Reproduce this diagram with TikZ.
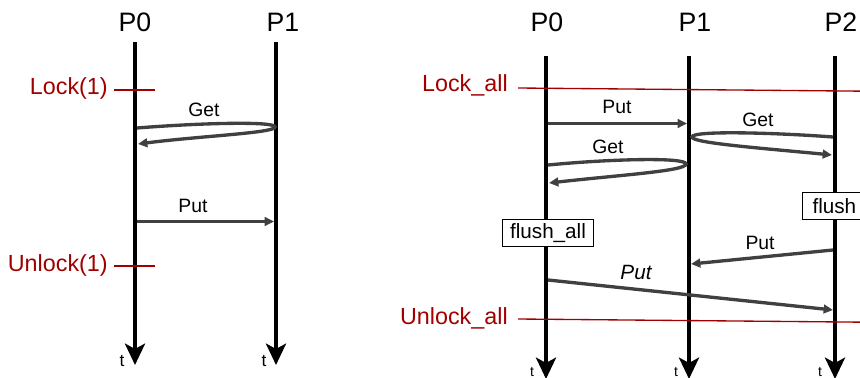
\documentclass[tikz,border=0pt]{standalone}
\usepackage{fontspec}
\setmainfont{Liberation Sans}
\usetikzlibrary{arrows.meta}
\definecolor{lockred}{RGB}{160,0,0}
\definecolor{msggray}{RGB}{64,64,64}
\tikzset{
  life/.style={line width=3pt, -{Stealth[length=16pt,width=15pt,inset=4pt]}},
  msg/.style={draw=msggray, line width=2.5pt, -{Triangle[length=7pt,width=6.5pt]}},
  proc/.style={font=\fontsize{20}{24}\selectfont, inner sep=0pt},
  locklbl/.style={text=lockred, font=\fontsize{17.5}{21}\selectfont, inner sep=0pt, anchor=east},
  lockline/.style={draw=lockred, line width=1pt},
  msglbl/.style={font=\fontsize{14.5}{17}\selectfont, inner sep=0pt},
  tlbl/.style={font=\fontsize{13}{15}\selectfont, inner sep=0pt},
  tlbls/.style={font=\fontsize{10.5}{12}\selectfont, inner sep=0pt},
  flushbox/.style={draw, fill=white, line width=0.8pt, font=\fontsize{15.5}{18}\selectfont, inner xsep=5.5pt, inner ysep=0pt, minimum height=20pt}
}
\begin{document}
\begin{tikzpicture}[x=0.75pt,y=-0.75pt]
\useasboundingbox (0,0) rectangle (860,378);

% ---------- left panel ----------
\node[proc] (lP0) at (135,22) {P0};
\node[proc] (lP1) at (283,22) {P1};
\coordinate (l0top) at (135,42);
\coordinate (l0bot) at (135,365);
\coordinate (l1top) at (276,42);
\coordinate (l1bot) at (276,365);
\draw[life] (l0top) -- (l0bot);
\draw[life] (l1top) -- (l1bot);
\node[tlbl] (lt0) at (122,361) {t};
\node[tlbl] (lt1) at (264,361) {t};

\node[locklbl] (lock1) at (108,88) {Lock(1)};
\coordinate (lk1a) at (114,90);
\coordinate (lk1b) at (155,90);
\draw[lockline] (lk1a) -- (lk1b);
\node[locklbl] (unlock1) at (108,265) {Unlock(1)};
\coordinate (ul1a) at (114,266);
\coordinate (ul1b) at (155,266);
\draw[lockline] (ul1a) -- (ul1b);

% Get (left)
\coordinate (lg0) at (137,128);
\coordinate (lgturn) at (275,127);
\coordinate (lg1) at (138,144);
\draw[msg] (lg0) .. controls (200,123) and (275,121) .. (lgturn)
   .. controls (275,133) and (200,136) .. (lg1);
\node[msglbl] (lgetlbl) at (204,110) {Get};

% Put (left)
\coordinate (lp0) at (137,221.5);
\coordinate (lp1) at (274,221.5);
\draw[msg] (lp0) -- (lp1);
\node[msglbl] (lputlbl) at (193,206) {Put};

% ---------- right panel ----------
\node[proc] (rP0) at (547,22) {P0};
\node[proc] (rP1) at (695,22) {P1};
\node[proc] (rP2) at (841,22) {P2};
\coordinate (r0top) at (546,56);
\coordinate (r0bot) at (546,379);
\coordinate (r1top) at (689,56);
\coordinate (r1bot) at (689,379);
\coordinate (r2top) at (835,56);
\coordinate (r2bot) at (835,379);
\draw[life] (r0top) -- (r0bot);
\draw[life] (r1top) -- (r1bot);
\draw[life] (r2top) -- (r2bot);
\node[tlbls] (rt0) at (532,372) {t};
\node[tlbls] (rt1) at (676,372) {t};
\node[tlbls] (rt2) at (820,372) {t};

% Lock_all / Unlock_all
\node[locklbl] (lockall) at (508,85) {Lock\_all};
\coordinate (la0) at (518,88);
\coordinate (la1) at (866,91.2);
\draw[lockline] (la0) -- (la1);
\node[locklbl] (unlockall) at (508,318) {Unlock\_all};
\coordinate (ua0) at (518,319);
\coordinate (ua1) at (866,322.2);
\draw[lockline] (ua0) -- (ua1);

% Put P0 -> P1
\coordinate (rp0) at (548,123.5);
\coordinate (rp1) at (687,123.5);
\draw[msg] (rp0) -- (rp1);
\node[msglbl] (rputa) at (617,107) {Put};

% Get P2 -> P1 -> P2
\coordinate (rg2s) at (833,137);
\coordinate (rg1turn) at (692,137);
\coordinate (rg2e) at (832,155);
\draw[msg] (rg2s) .. controls (780,133) and (692,130) .. (rg1turn)
   .. controls (692,143) and (760,148) .. (rg2e);
\node[msglbl] (rgeta) at (758,120) {Get};

% Get P0 -> P1 -> P0
\coordinate (rg0s) at (548,165);
\coordinate (rg1turn2) at (686,164);
\coordinate (rg0e) at (549,183);
\draw[msg] (rg0s) .. controls (610,159) and (686,157) .. (rg1turn2)
   .. controls (686,171) and (620,175) .. (rg0e);
\node[msglbl] (rgetb) at (608,147) {Get};

% flush boxes
\node[flushbox] (flushall) at (548,233) {flush\_all};
\node[flushbox, anchor=west, inner xsep=7.5pt] (flush) at (802,206) {flush};

% Put P2 -> P1
\coordinate (rp2s) at (833,250);
\coordinate (rp1e) at (691,264);
\draw[msg] (rp2s) -- (rp1e);
\node[msglbl] (rputb) at (760,243) {Put};

% Put P0 -> P2 (italic)
\coordinate (rp0s) at (548,280);
\coordinate (rp2e) at (833,310);
\draw[msg] (rp0s) -- (rp2e);
\node[msglbl, font=\fontsize{15.5}{18}\selectfont\itshape] (rputc) at (636,272) {Put};

\end{tikzpicture}
\end{document}
